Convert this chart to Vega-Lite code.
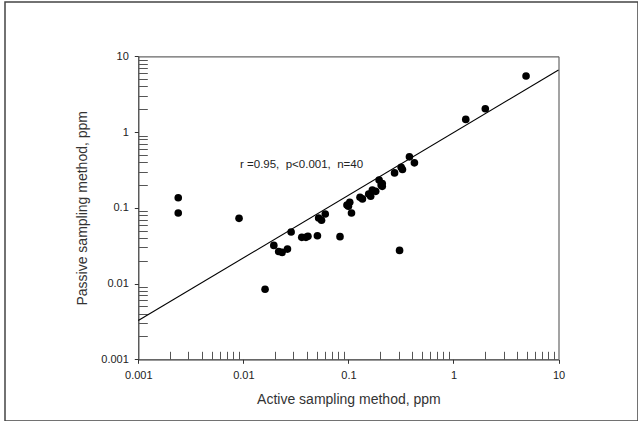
{
  "$schema": "https://vega.github.io/schema/vega-lite/v6.json",
  "width": 633,
  "height": 419,
  "autosize": {"type": "none"},
  "padding": {"left": 5, "top": 2, "right": 0, "bottom": 0},
  "background": "white",
  "config": {
    "view": {"stroke": "#444", "strokeWidth": 1.5},
    "font": "Liberation Sans",
    "axis": {"grid": false, "labelFlush": false, "labelOverlap": false, "labelBound": false}
  },
  "datasets": {
    "points": [
      {"active": 0.0024, "passive": 0.136},
      {"active": 0.0024, "passive": 0.0855},
      {"active": 0.0091, "passive": 0.0726},
      {"active": 0.0161, "passive": 0.0084},
      {"active": 0.0195, "passive": 0.0319},
      {"active": 0.0217, "passive": 0.0265},
      {"active": 0.0234, "passive": 0.0258},
      {"active": 0.0263, "passive": 0.0285},
      {"active": 0.0285, "passive": 0.0479},
      {"active": 0.036, "passive": 0.0407},
      {"active": 0.0394, "passive": 0.0407},
      {"active": 0.0412, "passive": 0.042},
      {"active": 0.0507, "passive": 0.0428},
      {"active": 0.0521, "passive": 0.0734},
      {"active": 0.0555, "passive": 0.0684},
      {"active": 0.0602, "passive": 0.0828},
      {"active": 0.0832, "passive": 0.0416},
      {"active": 0.0969, "passive": 0.109},
      {"active": 0.1, "passive": 0.105},
      {"active": 0.103, "passive": 0.118},
      {"active": 0.107, "passive": 0.0855},
      {"active": 0.129, "passive": 0.138},
      {"active": 0.136, "passive": 0.131},
      {"active": 0.156, "passive": 0.152},
      {"active": 0.163, "passive": 0.142},
      {"active": 0.169, "passive": 0.171},
      {"active": 0.182, "passive": 0.165},
      {"active": 0.196, "passive": 0.233},
      {"active": 0.205, "passive": 0.2},
      {"active": 0.21, "passive": 0.209},
      {"active": 0.21, "passive": 0.192},
      {"active": 0.275, "passive": 0.289},
      {"active": 0.307, "passive": 0.0274},
      {"active": 0.318, "passive": 0.343},
      {"active": 0.327, "passive": 0.32},
      {"active": 0.381, "passive": 0.471},
      {"active": 0.425, "passive": 0.392},
      {"active": 1.31, "passive": 1.47},
      {"active": 2.01, "passive": 2.03},
      {"active": 4.91, "passive": 5.5}
    ],
    "fit": [
      {"active": 0.001, "passive": 0.00325},
      {"active": 10, "passive": 6.6}
    ],
    "note": [
      {"active": 0.00929, "passive": 0.367, "label": "r =0.95,\u00a0 p<0.001,\u00a0 n=40"}
    ]
  },
  "resolve": {"axis": {"x": "independent", "y": "independent"}},
  "layer": [
    {
      "data": {"name": "points"},
      "mark": {"type": "circle", "color": "black", "opacity": 1, "size": 58},
      "encoding": {
        "x": {
          "field": "active", "type": "quantitative",
          "scale": {"type": "log", "domain": [0.001, 10], "nice": false, "range": [133.3, 553.5]},
          "axis": {
            "orient": "bottom", "offset": -61.7,
            "values": [0.001, 0.01, 0.1, 1, 10], "format": ".3~f",
            "title": "Active sampling method, ppm",
            "titleFontSize": 14, "titleFontWeight": "normal", "titleColor": "#333", "titlePadding": 12,
            "labelFontSize": 11, "labelColor": "#222", "labelPadding": 6,
            "tickSize": 4, "tickColor": "#333", "domainColor": "#333", "domainWidth": 1.2
          }
        },
        "y": {
          "field": "passive", "type": "quantitative",
          "scale": {"type": "log", "domain": [0.001, 10], "nice": false, "range": [357.3, 54.3]},
          "axis": {
            "orient": "left", "offset": -133.3,
            "values": [0.001, 0.01, 0.1, 1, 10], "format": ".3~f",
            "title": "Passive sampling method, ppm",
            "titleFontSize": 14, "titleFontWeight": "normal", "titleColor": "#333", "titlePadding": 11,
            "labelFontSize": 11, "labelColor": "#222", "labelPadding": 6,
            "tickSize": 4, "tickColor": "#333", "domainColor": "#333", "domainWidth": 1.2
          }
        }
      }
    },
    {
      "data": {"name": "fit"},
      "mark": {"type": "line", "color": "black", "strokeWidth": 1.1},
      "encoding": {
        "x": {
          "field": "active", "type": "quantitative",
          "scale": {"type": "log", "domain": [0.001, 10], "nice": false, "range": [133.3, 553.5]},
          "axis": {
            "orient": "bottom", "offset": -61.7,
            "values": [0.002, 0.003, 0.004, 0.005, 0.006, 0.007, 0.008, 0.009, 0.02, 0.03, 0.04, 0.05, 0.06, 0.07, 0.08, 0.09, 0.2, 0.3, 0.4, 0.5, 0.6, 0.7, 0.8, 0.9, 2, 3, 4, 5, 6, 7, 8, 9],
            "labels": false, "domain": false, "title": null,
            "tickSize": -8, "tickColor": "#555"
          }
        },
        "y": {
          "field": "passive", "type": "quantitative",
          "scale": {"type": "log", "domain": [0.001, 10], "nice": false, "range": [357.3, 54.3]},
          "axis": {
            "orient": "left", "offset": -133.3,
            "values": [0.002, 0.003, 0.004, 0.005, 0.006, 0.007, 0.008, 0.009, 0.02, 0.03, 0.04, 0.05, 0.06, 0.07, 0.08, 0.09, 0.2, 0.3, 0.4, 0.5, 0.6, 0.7, 0.8, 0.9, 2, 3, 4, 5, 6, 7, 8, 9],
            "labels": false, "domain": false, "title": null,
            "tickSize": -9, "tickColor": "#555"
          }
        }
      }
    },
    {
      "data": {"name": "note"},
      "mark": {"type": "text", "align": "left", "baseline": "middle", "fontSize": 11.5, "color": "#222"},
      "encoding": {
        "x": {
          "field": "active", "type": "quantitative",
          "scale": {"type": "log", "domain": [0.001, 10], "nice": false, "range": [133.3, 553.5]},
          "axis": {
            "orient": "top", "offset": -54.3,
            "labels": false, "ticks": false, "title": null,
            "domainColor": "#666", "domainWidth": 1.2
          }
        },
        "y": {
          "field": "passive", "type": "quantitative",
          "scale": {"type": "log", "domain": [0.001, 10], "nice": false, "range": [357.3, 54.3]},
          "axis": {
            "orient": "right", "offset": -79.5,
            "labels": false, "ticks": false, "title": null,
            "domainColor": "#666", "domainWidth": 1.2
          }
        },
        "text": {"field": "label"}
      }
    }
  ]
}
